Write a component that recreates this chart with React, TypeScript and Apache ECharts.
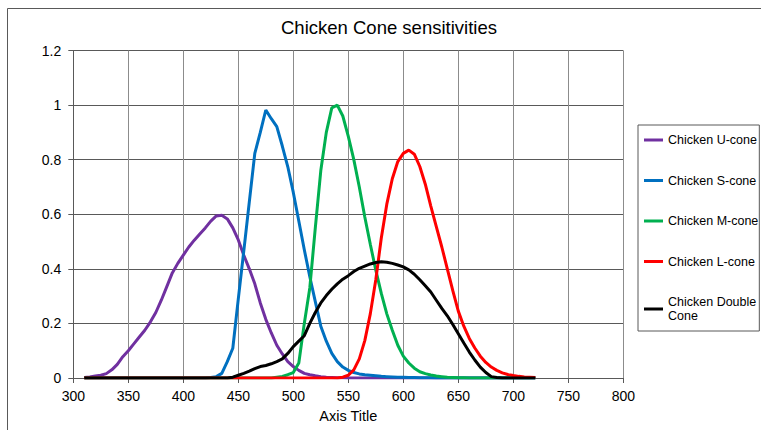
import React, { useEffect, useRef } from "react";
import * as echarts from "echarts";

const TITLE = "Chicken Cone sensitivities";
const X_AXIS_TITLE = "Axis Title";

// wavelength grid (nm), 310 .. 720 in 5 nm steps
const WAVELENGTHS: number[] = [
  310, 315, 320, 325, 330, 335, 340, 345, 350, 355,
  360, 365, 370, 375, 380, 385, 390, 395, 400, 405,
  410, 415, 420, 425, 430, 435, 440, 445, 450, 455,
  460, 465, 470, 475, 480, 485, 490, 495, 500, 505,
  510, 515, 520, 525, 530, 535, 540, 545, 550, 555,
  560, 565, 570, 575, 580, 585, 590, 595, 600, 605,
  610, 615, 620, 625, 630, 635, 640, 645, 650, 655,
  660, 665, 670, 675, 680, 685, 690, 695, 700, 705,
  710, 715, 720,
];

const SERIES_NAMES = [
  "Chicken U-cone",
  "Chicken S-cone",
  "Chicken M-cone",
  "Chicken L-cone",
  "Chicken Double Cone",
];

const COLORS = ["#7030A0", "#0070C0", "#00B050", "#FF0000", "#000000"];

const U_CONE: number[] = [
  0.002, 0.004, 0.007, 0.01, 0.016, 0.03, 0.05, 0.078, 0.1, 0.125,
  0.15, 0.175, 0.205, 0.24, 0.285, 0.335, 0.385, 0.42, 0.45, 0.48,
  0.505, 0.528, 0.55, 0.575, 0.594, 0.596, 0.583, 0.55, 0.506, 0.45,
  0.4, 0.345, 0.275, 0.215, 0.165, 0.12, 0.088, 0.06, 0.042, 0.028,
  0.017, 0.012, 0.008, 0.005, 0.003, 0.002, 0.001, 0.001, 0, 0,
  0, 0, 0, 0, 0, 0, 0, 0, 0, 0,
  0, 0, 0, 0, 0, 0, 0, 0, 0, 0,
  0, 0, 0, 0, 0, 0, 0, 0, 0, 0,
  0, 0, 0,
];

const S_CONE: number[] = [
  0, 0, 0, 0, 0, 0, 0, 0, 0, 0,
  0, 0, 0, 0, 0, 0, 0, 0, 0, 0,
  0, 0, 0, 0.002, 0.005, 0.017, 0.06, 0.109, 0.29, 0.466,
  0.645, 0.823, 0.9, 0.982, 0.95, 0.921, 0.85, 0.774, 0.68, 0.575,
  0.47, 0.371, 0.28, 0.19, 0.135, 0.09, 0.06, 0.04, 0.028, 0.02,
  0.015, 0.012, 0.01, 0.008, 0.006, 0.005, 0.004, 0.003, 0.003, 0.002,
  0.002, 0.001, 0.001, 0.001, 0, 0, 0, 0, 0, 0,
  0, 0, 0, 0, 0, 0, 0, 0, 0, 0,
  0, 0, 0,
];

const M_CONE: number[] = [
  0, 0, 0, 0, 0, 0, 0, 0, 0, 0,
  0, 0, 0, 0, 0, 0, 0, 0, 0, 0,
  0, 0, 0, 0, 0, 0, 0, 0, 0, 0,
  0, 0, 0, 0, 0, 0.003, 0.006, 0.012, 0.02, 0.055,
  0.2, 0.33, 0.55, 0.76, 0.9, 0.99, 1.0, 0.96, 0.885, 0.8,
  0.7, 0.59, 0.49, 0.395, 0.31, 0.235, 0.175, 0.12, 0.08, 0.055,
  0.036, 0.023, 0.016, 0.011, 0.007, 0.005, 0.003, 0.002, 0.001, 0.001,
  0, 0, 0, 0, 0, 0, 0, 0, 0, 0,
  0, 0, 0,
];

const L_CONE: number[] = [
  0, 0, 0, 0, 0, 0, 0, 0, 0, 0,
  0, 0, 0, 0, 0, 0, 0, 0, 0, 0,
  0, 0, 0, 0, 0, 0, 0, 0, 0, 0,
  0, 0, 0, 0, 0, 0, 0, 0, 0, 0,
  0, 0, 0, 0, 0, 0, 0, 0.003, 0.01, 0.03,
  0.07, 0.137, 0.235, 0.36, 0.513, 0.637, 0.73, 0.793, 0.823, 0.835,
  0.82, 0.775, 0.71, 0.63, 0.555, 0.48, 0.4, 0.32, 0.245, 0.19,
  0.145, 0.11, 0.08, 0.057, 0.04, 0.028, 0.019, 0.013, 0.009, 0.006,
  0.004, 0.003, 0.002,
];

const DOUBLE_CONE: number[] = [
  0, 0, 0, 0, 0, 0, 0, 0, 0, 0,
  0, 0, 0, 0, 0, 0, 0, 0, 0, 0,
  0, 0, 0, 0, 0, 0, 0, 0.003, 0.01, 0.017,
  0.025, 0.034, 0.042, 0.046, 0.052, 0.06, 0.07, 0.09, 0.115, 0.135,
  0.155, 0.2, 0.24, 0.275, 0.302, 0.325, 0.345, 0.362, 0.375, 0.39,
  0.402, 0.41, 0.418, 0.423, 0.426, 0.424, 0.42, 0.414, 0.407, 0.396,
  0.38, 0.36, 0.338, 0.315, 0.285, 0.255, 0.228, 0.196, 0.162, 0.128,
  0.095, 0.066, 0.04, 0.02, 0.005, 0.002, 0, 0, 0, 0,
  0, 0, 0,
];

const SERIES_VALUES = [U_CONE, S_CONE, M_CONE, L_CONE, DOUBLE_CONE];

const FONT = "'Liberation Sans', Arial, sans-serif";

export default function App() {
  const ref = useRef<HTMLDivElement>(null);

  useEffect(() => {
    const chart = echarts.init(ref.current!, null, { renderer: "svg" });
    chart.setOption({
      animation: false,
      backgroundColor: "#ffffff",
      title: {
        text: TITLE,
        left: 281,
        top: 18,
        padding: 0,
        textStyle: {
          fontFamily: FONT,
          fontSize: 18.5,
          fontWeight: "normal",
          color: "#000000",
        },
      },
      grid: {
        left: 73.3,
        right: 137.7,
        top: 50.5,
        bottom: 52,
        containLabel: false,
      },
      legend: {
        orient: "vertical",
        left: 638,
        top: 125,
        padding: [8, 1, 8, 6],
        icon: "rect",
        itemWidth: 19,
        itemHeight: 3,
        itemGap: 26.5,
        borderColor: "#595959",
        borderWidth: 1,
        selectedMode: false,
        data: SERIES_NAMES,
        formatter: (name: string) =>
          name === "Chicken Double Cone" ? "Chicken Double\nCone" : name,
        textStyle: {
          fontFamily: FONT,
          fontSize: 12.5,
          lineHeight: 14,
          color: "#000000",
        },
      },
      xAxis: {
        type: "value",
        min: 300,
        max: 800,
        interval: 50,
        name: X_AXIS_TITLE,
        nameLocation: "middle",
        nameGap: 30,
        nameTextStyle: {
          fontFamily: FONT,
          fontSize: 14.5,
          color: "#000000",
        },
        axisLine: { show: true, lineStyle: { color: "#595959", width: 1 } },
        axisTick: {
          show: true,
          inside: false,
          length: 5,
          lineStyle: { color: "#595959" },
        },
        axisLabel: {
          fontFamily: FONT,
          fontSize: 14,
          color: "#000000",
          margin: 11,
        },
        splitLine: { show: true, lineStyle: { color: "#8c8c8c", width: 1 } },
      },
      yAxis: {
        type: "value",
        min: 0,
        max: 1.2,
        interval: 0.2,
        axisLine: { show: true, lineStyle: { color: "#595959", width: 1 } },
        axisTick: {
          show: true,
          inside: false,
          length: 5,
          lineStyle: { color: "#595959" },
        },
        axisLabel: {
          fontFamily: FONT,
          fontSize: 14,
          color: "#000000",
          margin: 12,
        },
        splitLine: { show: true, lineStyle: { color: "#595959", width: 1 } },
      },
      series: SERIES_NAMES.map((name, si) => ({
        name,
        type: "line",
        symbol: "none",
        smooth: false,
        color: COLORS[si],
        lineStyle: { color: COLORS[si], width: 3 },
        data: WAVELENGTHS.map((w, i) => [w, SERIES_VALUES[si][i]]),
      })),
      graphic: [
        {
          type: "line",
          silent: true,
          shape: { x1: 7.5, y1: 8.5, x2: 761, y2: 8.5 },
          style: { stroke: "#595959", lineWidth: 1 },
        },
        {
          type: "line",
          silent: true,
          shape: { x1: 7.5, y1: 8.5, x2: 7.5, y2: 430 },
          style: { stroke: "#595959", lineWidth: 1 },
        },
      ],
    });
    return () => chart.dispose();
  }, []);

  return (
    <div
      ref={ref}
      style={{
        position: "absolute",
        left: 0,
        top: 0,
        width: 761,
        height: 430,
        background: "#ffffff",
      }}
    />
  );
}
